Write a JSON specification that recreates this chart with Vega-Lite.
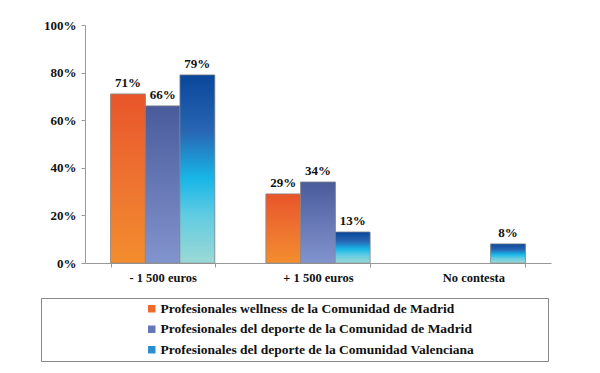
{
  "$schema": "https://vega.github.io/schema/vega-lite/v6.json",
  "width": 466,
  "height": 238,
  "autosize": {"type": "none"},
  "padding": {"left": 85, "top": 25, "right": 49, "bottom": 110},
  "background": "white",
  "config": {"view": {"stroke": null}, "font": "'Liberation Serif', 'Times New Roman', serif"},
  "data": {
    "values": [
      {"category": "- 1 500 euros", "series": "Profesionales wellness de la Comunidad de Madrid", "value": 0.71},
      {"category": "- 1 500 euros", "series": "Profesionales del deporte de la Comunidad de Madrid", "value": 0.66},
      {"category": "- 1 500 euros", "series": "Profesionales del deporte de la Comunidad Valenciana", "value": 0.79},
      {"category": "+ 1 500 euros", "series": "Profesionales wellness de la Comunidad de Madrid", "value": 0.29},
      {"category": "+ 1 500 euros", "series": "Profesionales del deporte de la Comunidad de Madrid", "value": 0.34},
      {"category": "+ 1 500 euros", "series": "Profesionales del deporte de la Comunidad Valenciana", "value": 0.13},
      {"category": "No contesta", "series": "Profesionales del deporte de la Comunidad Valenciana", "value": 0.08}
    ]
  },
  "encoding": {
    "x": {
      "field": "category", "type": "nominal", "sort": null,
      "scale": {"domain": ["- 1 500 euros", "+ 1 500 euros", "No contesta"], "paddingInner": 0.33, "paddingOuter": 0.165},
      "axis": {
        "title": null, "labelAngle": 0, "labelFont": "'Liberation Serif', 'Times New Roman', serif", "labelFontWeight": "bold",
        "labelFontSize": 12.5, "labelColor": "#111", "domainColor": "#999", "tickColor": "#999",
        "tickBand": "extent", "tickSize": 4, "labelPadding": 4
      }
    },
    "xOffset": {
      "field": "series", "type": "nominal", "sort": null,
      "scale": {"domain": [
        "Profesionales wellness de la Comunidad de Madrid",
        "Profesionales del deporte de la Comunidad de Madrid",
        "Profesionales del deporte de la Comunidad Valenciana"
      ], "paddingInner": 0, "paddingOuter": 0}
    },
    "y": {
      "field": "value", "type": "quantitative",
      "scale": {"domain": [0, 1]},
      "axis": {
        "title": null, "values": [0, 0.2, 0.4, 0.6, 0.8, 1], "format": ".0%", "grid": false,
        "labelFont": "'Liberation Serif', 'Times New Roman', serif", "labelFontWeight": "bold", "labelFontSize": 13, "labelColor": "#111",
        "domainColor": "#999", "tickColor": "#999", "tickSize": 4, "labelPadding": 5
      }
    }
  },
  "layer": [
    {
      "mark": {"type": "bar", "stroke": "#8a8a8a", "strokeWidth": 0.6},
      "encoding": {
        "color": {
          "field": "series", "type": "nominal", "sort": null,
          "scale": {
            "domain": [
              "Profesionales wellness de la Comunidad de Madrid",
              "Profesionales del deporte de la Comunidad de Madrid",
              "Profesionales del deporte de la Comunidad Valenciana"
            ],
            "range": ["#EC6A2C", "#6577B8", "#2A8ED0"]
          },
          "legend": {
            "orient": "none", "legendX": -44, "legendY": 273,
            "title": "MMMMM", "titleOrient": "right", "titleOpacity": 0, "titleFontSize": 13, "titlePadding": 8,
            "strokeColor": "#888", "fillColor": "white", "padding": 4, "rowPadding": 5.5,
            "symbolType": "square", "symbolSize": 56, "symbolStrokeWidth": 0,
            "symbolOffset": 100, "labelOffset": 2,
            "labelFont": "'Liberation Serif', 'Times New Roman', serif", "labelFontWeight": "bold", "labelFontSize": 13.5,
            "labelColor": "#111", "labelLimit": 0
          }
        }
      }
    },
    {
      "transform": [{"filter": "datum.series === 'Profesionales wellness de la Comunidad de Madrid'"}],
      "mark": {"type": "bar", "stroke": "#8a8a8a", "strokeWidth": 0.6,
        "color": {"gradient": "linear", "x1": 0, "y1": 0, "x2": 0, "y2": 1, "stops": [
          {"offset": 0, "color": "#E8552A"}, {"offset": 0.5, "color": "#EE7230"}, {"offset": 1, "color": "#F38D2E"}]}}
    },
    {
      "transform": [{"filter": "datum.series === 'Profesionales del deporte de la Comunidad de Madrid'"}],
      "mark": {"type": "bar", "stroke": "#8a8a8a", "strokeWidth": 0.6,
        "color": {"gradient": "linear", "x1": 0, "y1": 0, "x2": 0, "y2": 1, "stops": [
          {"offset": 0, "color": "#4A5B9C"}, {"offset": 1, "color": "#8294CE"}]}}
    },
    {
      "transform": [{"filter": "datum.series === 'Profesionales del deporte de la Comunidad Valenciana'"}],
      "mark": {"type": "bar", "stroke": "#8a8a8a", "strokeWidth": 0.6,
        "color": {"gradient": "linear", "x1": 0, "y1": 0, "x2": 0, "y2": 1, "stops": [
          {"offset": 0, "color": "#0A469A"}, {"offset": 0.3, "color": "#2866B4"},
          {"offset": 0.55, "color": "#18B6E8"}, {"offset": 0.75, "color": "#62CCE2"}, {"offset": 1, "color": "#9CD9D4"}]}}
    },
    {
      "mark": {"type": "text", "dy": -7, "baseline": "alphabetic", "fontWeight": "bold", "fontSize": 13, "font": "'Liberation Serif', 'Times New Roman', serif", "color": "#111"},
      "encoding": {"text": {"field": "value", "type": "quantitative", "format": ".0%"}}
    }
  ]
}
